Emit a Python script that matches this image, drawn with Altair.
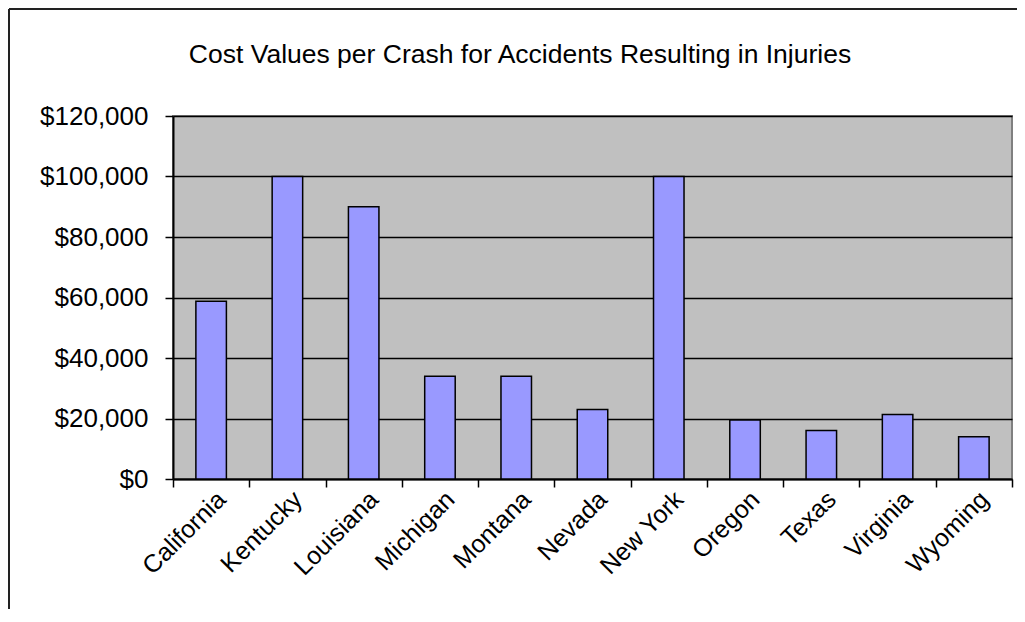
import altair as alt
import pandas as pd

states = ["California", "Kentucky", "Louisiana", "Michigan", "Montana", "Nevada",
          "New York", "Oregon", "Texas", "Virginia", "Wyoming"]
costs = [58800, 100000, 90000, 34000, 34000, 23000, 100000, 19500, 16000, 21300, 14000]
y_ticks = [0, 20000, 40000, 60000, 80000, 100000, 120000]
title_text = "Cost Values per Crash for Accidents Resulting in Injuries"

df = pd.DataFrame({"state": states, "cost": costs})
FONT = "Liberation Sans"

W, H = 839, 363

bars = alt.Chart(df).mark_bar(
    fill="#9999FF", stroke="#000000", strokeWidth=1.5,
    width=alt.RelativeBandSize(0.4)
).encode(
    x=alt.X("state:N", sort=states, title=None,
            scale=alt.Scale(paddingInner=0, paddingOuter=0),
            axis=alt.Axis(labelAngle=-45, labelAlign="right", labelBaseline="middle",
                          labelFontSize=25, labelFont=FONT, labelColor="#000000",
                          labelPadding=8, labelOffset=10, labelOverlap=False, labelLimit=0,
                          tickBand="extent", tickSize=8, tickColor="#000000", tickWidth=1.5,
                          domainColor="#000000", domainWidth=2, grid=False)),
    y=alt.Y("cost:Q", title=None,
            scale=alt.Scale(domain=[0, 120000], nice=False),
            axis=alt.Axis(values=y_ticks, format="$,.0f",
                          labelFontSize=26, labelFont=FONT, labelColor="#000000",
                          labelPadding=17, tickSize=8, tickColor="#000000", tickWidth=1.5,
                          domainColor="#000000", domainWidth=2,
                          grid=True, gridColor="#000000", gridWidth=1.5)),
)

one = pd.DataFrame({"t": [title_text]})

title = alt.Chart(one).mark_text(
    fontSize=26.5, font=FONT, color="#000000", align="center", baseline="middle"
).encode(x=alt.value(347), y=alt.value(-61), text="t:N")

top_line = alt.Chart(one).mark_rule(color="#222222", strokeWidth=2).encode(
    x=alt.value(-164), x2=alt.value(W + 20), y=alt.value(-107))
left_line = alt.Chart(one).mark_rule(color="#222222", strokeWidth=2).encode(
    x=alt.value(-164), y=alt.value(-107), y2=alt.value(H + 300))

chart = alt.layer(bars, title, top_line, left_line).properties(
    width=W, height=H,
    autosize=alt.AutoSizeParams(type="none"),
    padding={"left": 165, "top": 108, "right": 5, "bottom": 130},
    background="#FFFFFF",
).configure_view(
    fill="#C0C0C0", stroke="#808080", strokeWidth=2
)

chart.save("out.html", embed_options={"renderer": "svg", "actions": False})
